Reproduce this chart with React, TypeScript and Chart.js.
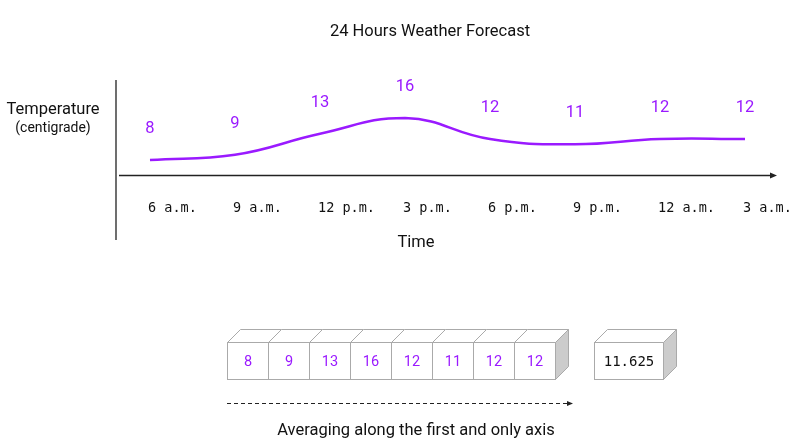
import React, { useEffect, useRef } from "react";
import { Chart, registerables } from "chart.js";

Chart.register(...registerables);

const hours = ["6 a.m.", "9 a.m.", "12 p.m.", "3 p.m.", "6 p.m.", "9 p.m.", "12 a.m.", "3 a.m."];
const temps = [8, 9, 13, 16, 12, 11, 12, 12];
const titleText = "24 Hours Weather Forecast";
const yTitle = "Temperature";
const ySub = "(centigrade)";
const xTitle = "Time";
const caption = "Averaging along the first and only axis";

const PURPLE = "#9a1aff";
const SANS = "Roboto, 'Noto Sans', sans-serif";
const MONO = "'DejaVu Sans Mono', 'Liberation Mono', monospace";

const diagramPlugin = {
  id: "diagram",
  afterDraw(chart: any) {
    const ctx: CanvasRenderingContext2D = chart.ctx;
    const xs = chart.scales.x;
    const ys = chart.scales.y;
    ctx.save();
    // title
    ctx.fillStyle = "#111";
    ctx.textAlign = "center";
    ctx.textBaseline = "middle";
    ctx.font = `16.5px ${SANS}`;
    ctx.fillText(titleText, 430, 32);
    ctx.fillText(yTitle, 53, 110);
    ctx.fillText(xTitle, 416, 243);
    ctx.font = `14px ${SANS}`;
    ctx.fillText(ySub, 53, 128);

    // axes
    ctx.strokeStyle = "#222";
    ctx.lineWidth = 1.3;
    ctx.beginPath();
    ctx.moveTo(116, 80);
    ctx.lineTo(116, 240);
    ctx.moveTo(119, 175.5);
    ctx.lineTo(771, 175.5);
    ctx.stroke();
    ctx.fillStyle = "#222";
    ctx.beginPath();
    ctx.moveTo(777, 175.5);
    ctx.lineTo(770, 172.5);
    ctx.lineTo(770, 178.5);
    ctx.closePath();
    ctx.fill();

    // tick labels
    ctx.font = `13.5px ${MONO}`;
    ctx.textAlign = "left";
    ctx.fillStyle = "#111";
    hours.forEach((h, i) => {
      ctx.fillText(h, xs.getPixelForValue(i) - 2, 208);
    });

    // value labels
    ctx.font = `16.5px ${SANS}`;
    ctx.textAlign = "center";
    ctx.fillStyle = PURPLE;
    temps.forEach((t, i) => {
      ctx.fillText(String(t), xs.getPixelForValue(i), ys.getPixelForValue(t) - 31);
    });

    // boxes
    const bx = 227.5, by = 342.5, bw = 41, bh = 37, d = 13;
    const cube = (x: number, w: number, side: boolean) => {
      ctx.strokeStyle = "#aaa";
      ctx.lineWidth = 1;
      ctx.fillStyle = "#fff";
      ctx.beginPath();
      ctx.moveTo(x, by);
      ctx.lineTo(x + d, by - d);
      ctx.lineTo(x + w + d, by - d);
      ctx.lineTo(x + w, by);
      ctx.closePath();
      ctx.fill();
      ctx.stroke();
      ctx.fillRect(x, by, w, bh);
      ctx.strokeRect(x, by, w, bh);
      if (side) {
        ctx.fillStyle = "#cccccc";
        ctx.beginPath();
        ctx.moveTo(x + w, by);
        ctx.lineTo(x + w + d, by - d);
        ctx.lineTo(x + w + d, by + bh - d);
        ctx.lineTo(x + w, by + bh);
        ctx.closePath();
        ctx.fill();
        ctx.stroke();
      }
    };
    temps.forEach((t, i) => {
      cube(bx + i * bw, bw, i === temps.length - 1);
    });
    ctx.font = `14.5px ${SANS}`;
    ctx.fillStyle = PURPLE;
    ctx.textAlign = "center";
    temps.forEach((t, i) => {
      ctx.fillText(String(t), bx + i * bw + bw / 2, by + bh / 2 + 1);
    });
    const avg = temps.reduce((a, b) => a + b, 0) / temps.length;
    cube(594.5, 69, true);
    ctx.font = `14px ${MONO}`;
    ctx.fillStyle = "#111";
    ctx.fillText(String(avg), 629, by + bh / 2 + 1);

    // dashed arrow
    ctx.strokeStyle = "#222";
    ctx.lineWidth = 1;
    ctx.setLineDash([4, 3]);
    ctx.beginPath();
    ctx.moveTo(227, 403.5);
    ctx.lineTo(567, 403.5);
    ctx.stroke();
    ctx.setLineDash([]);
    ctx.fillStyle = "#222";
    ctx.beginPath();
    ctx.moveTo(573, 403.5);
    ctx.lineTo(567, 401);
    ctx.lineTo(567, 406);
    ctx.closePath();
    ctx.fill();

    ctx.font = `16.5px ${SANS}`;
    ctx.fillStyle = "#111";
    ctx.fillText(caption, 416, 431);
    ctx.restore();
  },
};

export default function App() {
  const ref = useRef<HTMLCanvasElement>(null);
  useEffect(() => {
    if (!ref.current) return;
    const chart = new Chart(ref.current, {
      type: "line",
      data: {
        labels: hours,
        datasets: [
          {
            data: temps,
            borderColor: PURPLE,
            borderWidth: 2.5,
            pointRadius: 0,
            tension: 0.45,
            fill: false,
            clip: false as any,
          },
        ],
      },
      options: {
        responsive: false,
        animation: false,
        devicePixelRatio: 1,
        layout: { padding: { left: 150, right: 56, top: 118, bottom: 286 } },
        scales: {
          x: { type: "category", display: false, offset: false },
          y: { type: "linear", display: false, min: 8, max: 16 },
        },
        plugins: { legend: { display: false }, tooltip: { enabled: false }, title: { display: false } },
      },
      plugins: [diagramPlugin],
    });
    return () => chart.destroy();
  }, []);
  return (
    <div style={{ position: "fixed", left: 0, top: 0, width: 801, height: 446, background: "#fff" }}>
      <canvas ref={ref} width={801} height={446} style={{ display: "block", width: 801, height: 446 }} />
    </div>
  );
}
